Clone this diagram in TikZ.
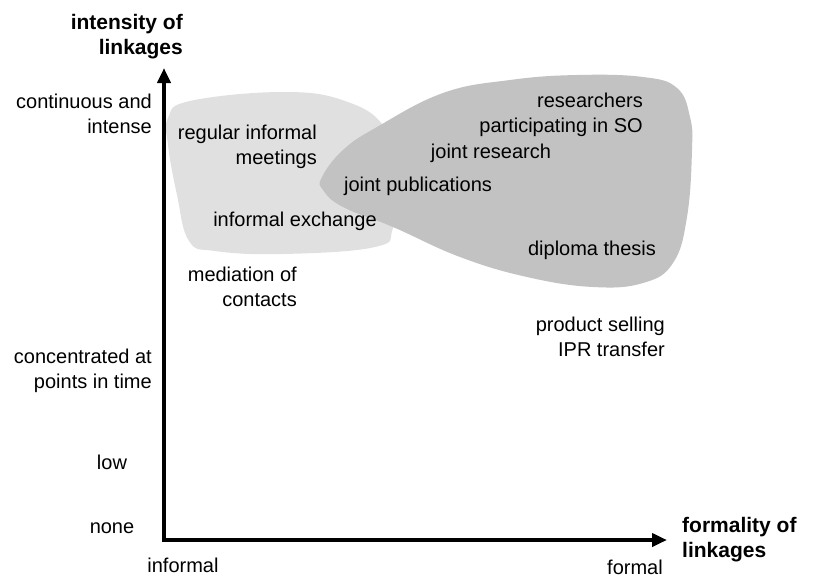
\documentclass[tikz,border=0pt]{standalone}
\usepackage{fontspec}
\setmainfont{Liberation Sans}
\usetikzlibrary{arrows.meta}
\definecolor{blobA}{gray}{0.88}
\definecolor{blobB}{gray}{0.76}
\tikzset{
	lbl/.style={inner sep=0pt, font=\fontsize{20}{24.5}\selectfont},
	axlbl/.style={inner sep=0pt, font=\fontsize{21}{25}\selectfont\bfseries},
	axis/.style={line width=4pt, -{Triangle[length=15pt,width=13pt]}}
}
\begin{document}
\begin{tikzpicture}[x=1pt,y=-1pt]
\useasboundingbox (0,0) rectangle (816,579);
% the two clouds
\fill[blobA] plot[smooth cycle, tension=0.7] coordinates {(168,118) (190,101) (283,92) (345,101) (385,128) (400,180) (393,228) (375,247) (283,254) (215,251) (189,241) (177,195) (168,145)};
\fill[blobB] plot[smooth cycle, tension=0.7] coordinates {(322,177) (343,150) (377,127) (443,93) (510,80) (577,75) (643,77) (677,88) (690,117) (692,150) (687,217) (673,263) (643,283) (593,287) (527,277) (460,257) (393,227) (343,207) (323,190)};

% axes
\coordinate (o) at (164,540);
\coordinate (ytip) at (164,68);
\coordinate (xtip) at (667,540);
\draw[axis] ([yshift=2pt]o) -- (ytip);
\draw[axis] ([xshift=-2pt]o) -- (xtip);

\node[axlbl, anchor=east, align=right] (yname) at (183,37) {intensity of\\linkages};
\node[axlbl, anchor=west, align=left] (xname) at (682,540) {formality of\\linkages};

% levels of intensity
\node[lbl, anchor=east, align=right] (cont) at (152,114) {continuous and\\intense};
\node[lbl, anchor=east, align=right] (conc) at (152,371) {concentrated at\\points in time};
\node[lbl] (low) at (112,462) {low};
\node[lbl] (none) at (112,528) {none};
\node[lbl] (inf) at (183,565) {informal};
\node[lbl] (form) at (635,567) {formal};

% linkages
\node[lbl, anchor=east, align=right] (meet) at (317,147) {regular informal\\meetings};
\node[lbl] (exch) at (295,221) {informal exchange};
\node[lbl, anchor=east, align=right] (medi) at (297,287) {mediation of\\contacts};
\node[lbl, anchor=east, align=right] (resp) at (643,115) {researchers\\participating in SO};
\node[lbl] (jres) at (491,153) {joint research};
\node[lbl] (jpub) at (418,186) {joint publications};
\node[lbl] (dipl) at (592,250) {diploma thesis};
\node[lbl, anchor=east] (prod) at (665,326) {product selling};
\node[lbl, anchor=east] (ipr) at (665,349) {IPR transfer};
\end{tikzpicture}
\end{document}
